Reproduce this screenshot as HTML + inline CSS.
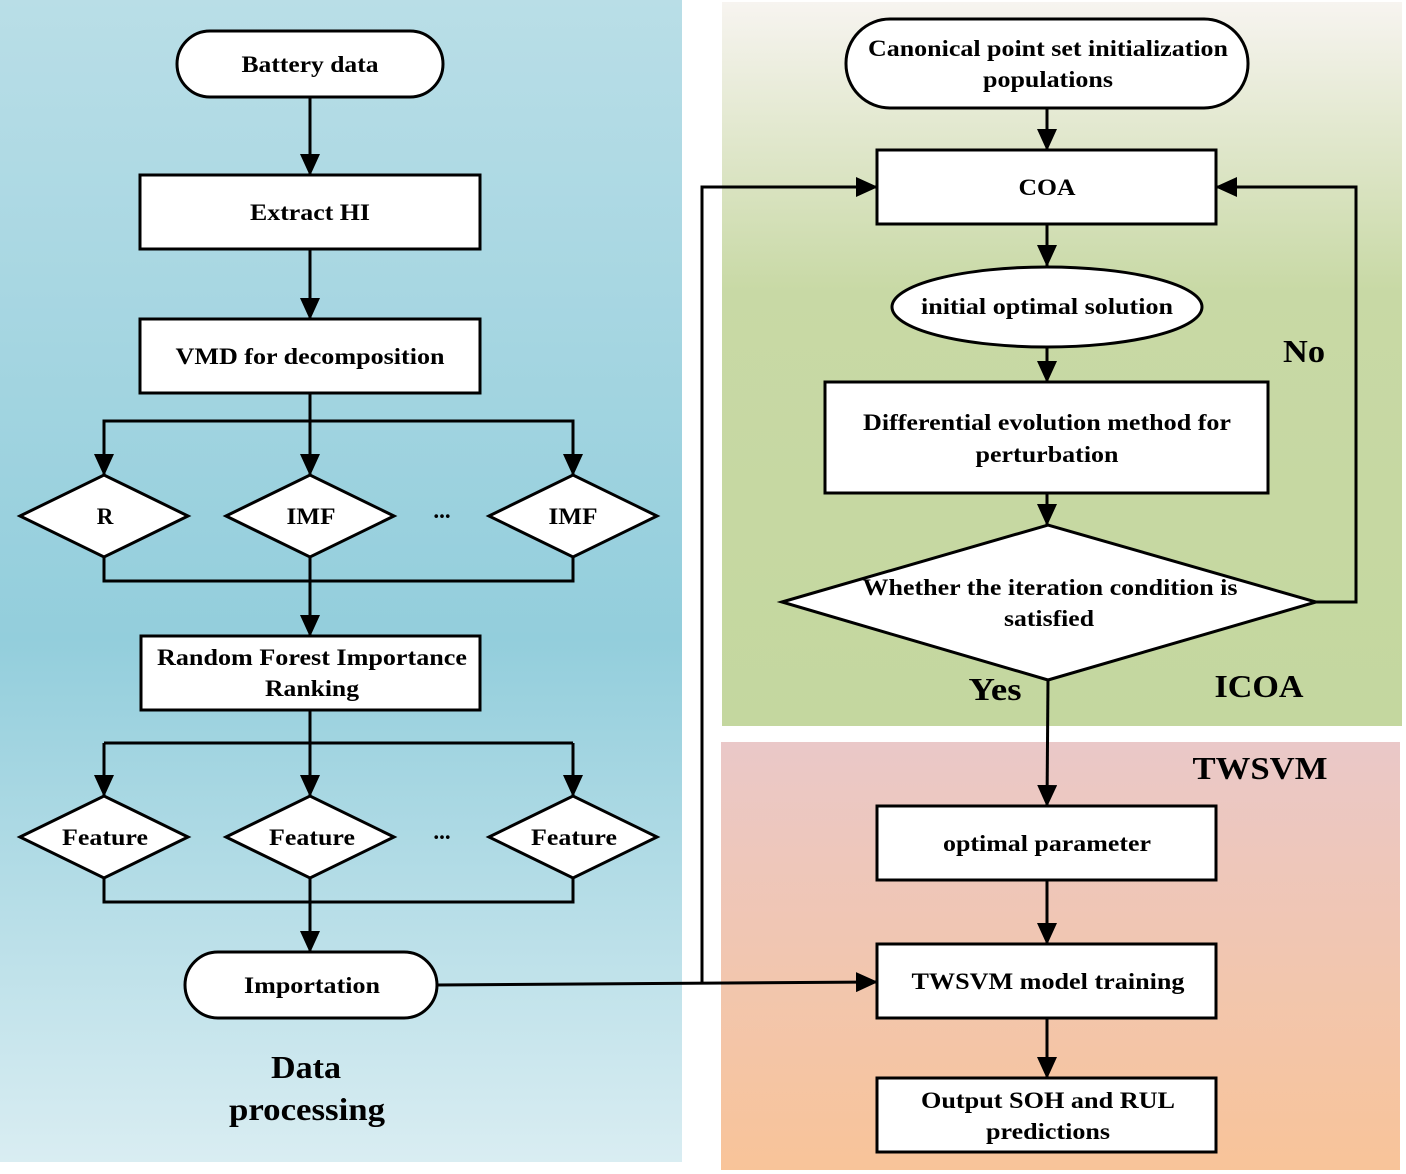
<!DOCTYPE html>
<html><head><meta charset="utf-8"><style>html,body{margin:0;padding:0;background:#fff}svg{display:block}</style></head><body>
<svg width="1406" height="1174" viewBox="0 0 1406 1174" xmlns="http://www.w3.org/2000/svg" font-family="'Liberation Serif',serif" font-weight="bold">
<defs>
<linearGradient id="gb" x1="0" y1="0" x2="0" y2="1"><stop offset="0" stop-color="#b9dee7"/><stop offset="0.55" stop-color="#93cedc"/><stop offset="1" stop-color="#d9edf2"/></linearGradient>
<linearGradient id="gg" x1="0" y1="0" x2="0" y2="1"><stop offset="0" stop-color="#f7f4f0"/><stop offset="0.4" stop-color="#c8d9a5"/><stop offset="1" stop-color="#c4d79f"/></linearGradient>
<linearGradient id="gp" x1="0" y1="0" x2="0" y2="1"><stop offset="0" stop-color="#eac8c8"/><stop offset="1" stop-color="#f8c499"/></linearGradient>
<marker id="a" markerWidth="22" markerHeight="20" refX="21" refY="10" orient="auto" markerUnits="userSpaceOnUse"><path d="M0,0 L22,10 L0,20 Z" fill="#000"/></marker>
</defs>
<rect x="0" y="0" width="682" height="1162" fill="url(#gb)"/>
<rect x="722" y="2" width="680" height="724" fill="url(#gg)"/>
<rect x="721" y="742" width="679" height="428" fill="url(#gp)"/>
<g stroke="#000" stroke-width="3" fill="none">
<path d="M310,97 V175" marker-end="url(#a)"/>
<path d="M310,249 V319" marker-end="url(#a)"/>
<path d="M310,393 V475" marker-end="url(#a)"/>
<path d="M104,475 V421 H573 V475" />
<path d="M104,421 V475" marker-end="url(#a)"/>
<path d="M573,421 V475" marker-end="url(#a)"/>
<path d="M104,557 V581 H573 V557 M310,557 V581"/>
<path d="M310,581 V636" marker-end="url(#a)"/>
<path d="M104,743 H573"/>
<path d="M104,743 V796" marker-end="url(#a)"/>
<path d="M310,710 V796" marker-end="url(#a)"/>
<path d="M573,743 V796" marker-end="url(#a)"/>
<path d="M104,878 V902 H573 V878 M310,878 V902"/>
<path d="M310,902 V952" marker-end="url(#a)"/>
<path d="M437,985 L877,982" marker-end="url(#a)"/>
<path d="M702,983 V187 H877" marker-end="url(#a)"/>
<path d="M1047,108 V150" marker-end="url(#a)"/>
<path d="M1047,224 V266" marker-end="url(#a)"/>
<path d="M1047,347 V382" marker-end="url(#a)"/>
<path d="M1047,493 V525" marker-end="url(#a)"/>
<path d="M1316,602 H1356 V187 H1216" marker-end="url(#a)"/>
<path d="M1048,680 L1047,806" marker-end="url(#a)"/>
<path d="M1047,880 V944" marker-end="url(#a)"/>
<path d="M1047,1018 V1078" marker-end="url(#a)"/>
</g>
<g stroke="#000" stroke-width="3" fill="#fff">
<rect x="177" y="31" width="266" height="66" rx="33"/>
<rect x="140" y="175" width="340" height="74"/>
<rect x="140" y="319" width="340" height="74"/>
<path d="M20,516 L104,475 L188,516 L104,557 Z"/>
<path d="M226,516 L310,475 L394,516 L310,557 Z"/>
<path d="M489,516 L573,475 L657,516 L573,557 Z"/>
<rect x="141" y="636" width="339" height="74"/>
<path d="M20,837 L104,796 L188,837 L104,878 Z"/>
<path d="M226,837 L310,796 L394,837 L310,878 Z"/>
<path d="M489,837 L573,796 L657,837 L573,878 Z"/>
<rect x="185" y="952" width="252" height="66" rx="33"/>
<rect x="846" y="19" width="402" height="89" rx="44"/>
<rect x="877" y="150" width="339" height="74"/>
<ellipse cx="1047" cy="307" rx="155" ry="40"/>
<rect x="825" y="382" width="443" height="111"/>
<path d="M782,602 L1048,525 L1316,602 L1048,680 Z"/>
<rect x="877" y="806" width="339" height="74"/>
<rect x="877" y="944" width="339" height="74"/>
<rect x="877" y="1078" width="339" height="74"/>
</g>
<g font-size="23" text-anchor="middle" fill="#000" lengthAdjust="spacingAndGlyphs">
<text x="310" y="72" textLength="137" lengthAdjust="spacingAndGlyphs">Battery data</text>
<text x="310" y="220" textLength="120" lengthAdjust="spacingAndGlyphs">Extract HI</text>
<text x="310" y="364" textLength="269" lengthAdjust="spacingAndGlyphs">VMD for decomposition</text>
<text x="105" y="524">R</text>
<text x="311" y="524" textLength="49" lengthAdjust="spacingAndGlyphs">IMF</text>
<text x="573" y="524" textLength="49" lengthAdjust="spacingAndGlyphs">IMF</text>
<text x="442" y="518">...</text>
<text x="312" y="665" textLength="310" lengthAdjust="spacingAndGlyphs">Random Forest Importance</text>
<text x="312" y="696" textLength="94" lengthAdjust="spacingAndGlyphs">Ranking</text>
<text x="105" y="845" textLength="86" lengthAdjust="spacingAndGlyphs">Feature</text>
<text x="312" y="845" textLength="86" lengthAdjust="spacingAndGlyphs">Feature</text>
<text x="574" y="845" textLength="86" lengthAdjust="spacingAndGlyphs">Feature</text>
<text x="442" y="839">...</text>
<text x="312" y="993" textLength="136" lengthAdjust="spacingAndGlyphs">Importation</text>
<text x="306" y="1078" font-size="32" textLength="70" lengthAdjust="spacingAndGlyphs">Data</text>
<text x="307" y="1120" font-size="32" textLength="156" lengthAdjust="spacingAndGlyphs">processing</text>
<text x="1048" y="56" textLength="360" lengthAdjust="spacingAndGlyphs">Canonical point set initialization</text>
<text x="1048" y="87" textLength="130" lengthAdjust="spacingAndGlyphs">populations</text>
<text x="1047" y="195" textLength="57" lengthAdjust="spacingAndGlyphs">COA</text>
<text x="1047" y="314" textLength="252" lengthAdjust="spacingAndGlyphs">initial optimal solution</text>
<text x="1047" y="430" textLength="368" lengthAdjust="spacingAndGlyphs">Differential evolution method for</text>
<text x="1047" y="462" textLength="143" lengthAdjust="spacingAndGlyphs">perturbation</text>
<text x="1050" y="595" textLength="375" lengthAdjust="spacingAndGlyphs">Whether the iteration condition is</text>
<text x="1049" y="626" textLength="90" lengthAdjust="spacingAndGlyphs">satisfied</text>
<text x="1304" y="362" font-size="32" textLength="42" lengthAdjust="spacingAndGlyphs">No</text>
<text x="995" y="700" font-size="32" textLength="53" lengthAdjust="spacingAndGlyphs">Yes</text>
<text x="1259" y="697" font-size="32" textLength="89" lengthAdjust="spacingAndGlyphs">ICOA</text>
<text x="1260" y="779" font-size="32" textLength="135" lengthAdjust="spacingAndGlyphs">TWSVM</text>
<text x="1047" y="851" textLength="208" lengthAdjust="spacingAndGlyphs">optimal parameter</text>
<text x="1048" y="989" textLength="273" lengthAdjust="spacingAndGlyphs">TWSVM model training</text>
<text x="1048" y="1108" textLength="254" lengthAdjust="spacingAndGlyphs">Output SOH and RUL</text>
<text x="1048" y="1139" textLength="124" lengthAdjust="spacingAndGlyphs">predictions</text>
</g>
</svg>
</body></html>
